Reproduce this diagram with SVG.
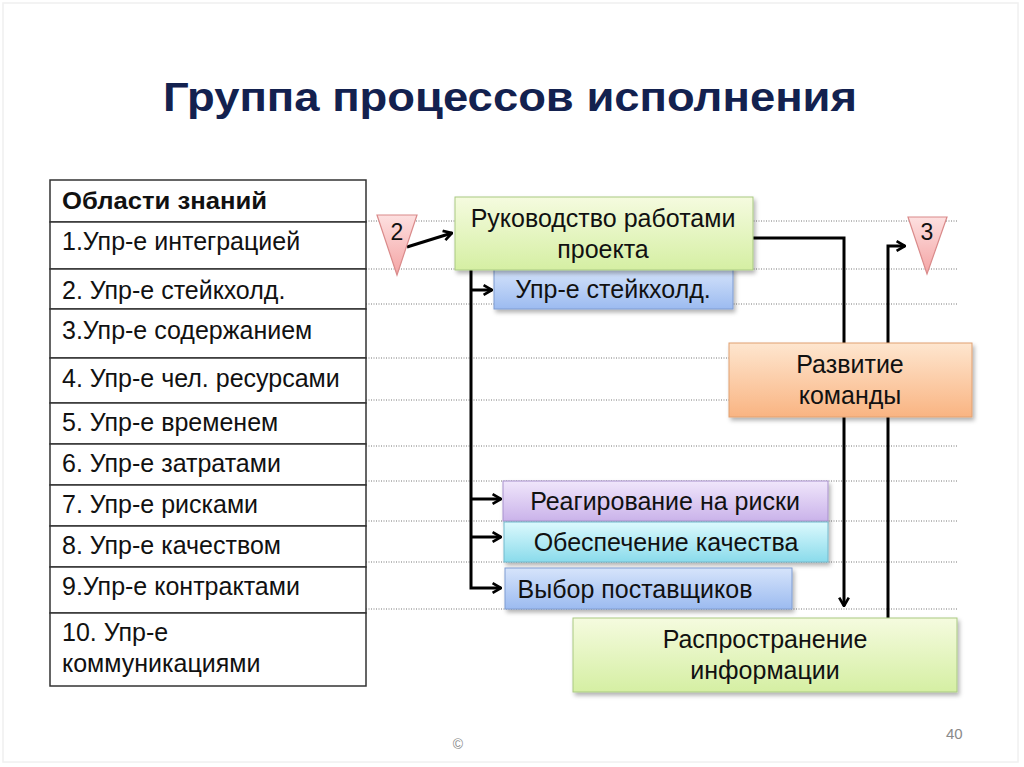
<svg xmlns="http://www.w3.org/2000/svg" width="1024" height="767" viewBox="0 0 1024 767">
<style>
.t{font-family:"Liberation Sans",Arial,sans-serif;font-size:25px;fill:#111}
.c{text-anchor:middle}
.cell{fill:#fff;stroke:#333;stroke-width:1.5}
.dot{stroke:#777;stroke-width:1;stroke-dasharray:1 1.5}
.con{fill:none;stroke:#000;stroke-width:3}
.box{filter:url(#sh)}
</style>
<defs>
<filter id="sh" x="-10%" y="-20%" width="120%" height="150%"><feDropShadow dx="2" dy="3" stdDeviation="2" flood-color="#000" flood-opacity="0.3"/></filter>
<linearGradient id="gGreen" x1="0" y1="0" x2="0" y2="1"><stop offset="0" stop-color="#f5fbdf"/><stop offset="1" stop-color="#d5efa3"/></linearGradient>
<linearGradient id="gBlue" x1="0" y1="0" x2="0" y2="1"><stop offset="0" stop-color="#d6e4fb"/><stop offset="1" stop-color="#9cbbf0"/></linearGradient>
<linearGradient id="gPurple" x1="0" y1="0" x2="0" y2="1"><stop offset="0" stop-color="#f0e6fb"/><stop offset="1" stop-color="#cab3ea"/></linearGradient>
<linearGradient id="gCyan" x1="0" y1="0" x2="0" y2="1"><stop offset="0" stop-color="#dcf9fd"/><stop offset="1" stop-color="#8adbeb"/></linearGradient>
<linearGradient id="gOrange" x1="0" y1="0" x2="0" y2="1"><stop offset="0" stop-color="#fee6cf"/><stop offset="1" stop-color="#f9b482"/></linearGradient>
<linearGradient id="gPink" x1="0" y1="0" x2="0" y2="1"><stop offset="0" stop-color="#fde0e0"/><stop offset="1" stop-color="#f4a4a4"/></linearGradient>
<marker id="ah" viewBox="0 0 10 10" refX="9" refY="5" markerWidth="4" markerHeight="4" orient="auto" markerUnits="strokeWidth"><path d="M2,1 L9,5 L2,9" fill="none" stroke="#000" stroke-width="2.2"/></marker>
</defs>
<rect x="0" y="0" width="1024" height="767" fill="#fff"/>
<rect x="3" y="3" width="1015" height="759" fill="none" stroke="#f0f0f0" stroke-width="1.5"/>
<text x="510" y="111" class="t c" style="font-size:41px;font-weight:bold;fill:#13214f" textLength="694" lengthAdjust="spacingAndGlyphs">Группа процессов исполнения</text>

<g id="gridlines">
<line class="dot" x1="366" y1="221" x2="957" y2="221"/>
<line class="dot" x1="366" y1="269" x2="957" y2="269"/>
<line class="dot" x1="366" y1="304" x2="957" y2="304"/>
<line class="dot" x1="366" y1="358" x2="957" y2="358"/>
<line class="dot" x1="366" y1="400" x2="957" y2="400"/>
<line class="dot" x1="366" y1="446" x2="957" y2="446"/>
<line class="dot" x1="366" y1="481" x2="957" y2="481"/>
<line class="dot" x1="366" y1="521" x2="957" y2="521"/>
<line class="dot" x1="366" y1="562" x2="957" y2="562"/>
<line class="dot" x1="366" y1="609" x2="957" y2="609"/>
</g>

<g id="table">
<rect class="cell" x="50" y="180" width="316" height="42"/>
<rect class="cell" x="50" y="222" width="316" height="47"/>
<rect class="cell" x="50" y="269" width="316" height="40"/>
<rect class="cell" x="50" y="309" width="316" height="49"/>
<rect class="cell" x="50" y="358" width="316" height="45"/>
<rect class="cell" x="50" y="403" width="316" height="41"/>
<rect class="cell" x="50" y="444" width="316" height="41"/>
<rect class="cell" x="50" y="485" width="316" height="41"/>
<rect class="cell" x="50" y="526" width="316" height="41"/>
<rect class="cell" x="50" y="567" width="316" height="46"/>
<rect class="cell" x="50" y="613" width="316" height="73"/>
<text class="t" x="62" y="209" style="font-weight:bold;font-size:24px" textLength="205" lengthAdjust="spacingAndGlyphs">Области знаний</text>
<text class="t" x="62" y="250">1.Упр-е интеграцией</text>
<text class="t" x="62" y="299">2. Упр-е стейкхолд.</text>
<text class="t" x="62" y="339">3.Упр-е содержанием</text>
<text class="t" x="62" y="387">4. Упр-е чел. ресурсами</text>
<text class="t" x="62" y="431">5. Упр-е временем</text>
<text class="t" x="62" y="472">6. Упр-е затратами</text>
<text class="t" x="62" y="513">7. Упр-е рисками</text>
<text class="t" x="62" y="554">8. Упр-е качеством</text>
<text class="t" x="62" y="595">9.Упр-е контрактами</text>
<text class="t" x="62" y="641">10. Упр-е</text>
<text class="t" x="62" y="672">коммуникациями</text>
</g>

<g id="connectors">
<line class="con" x1="407" y1="247" x2="452" y2="233" marker-end="url(#ah)"/>
<path class="con" d="M753,238 H844 V606" marker-end="url(#ah)"/>
<path class="con" d="M888,618 V246 H905" marker-end="url(#ah)"/>
<path class="con" d="M471,270 V588 H501" marker-end="url(#ah)"/>
<path class="con" d="M471,290 H492" marker-end="url(#ah)"/>
<path class="con" d="M471,499 H501" marker-end="url(#ah)"/>
<path class="con" d="M471,537 H501" marker-end="url(#ah)"/>
</g>

<g id="tri2">
<polygon points="377,215 417,215 397,275" fill="url(#gPink)" stroke="#d98a8a" stroke-width="1.2"/>
<text class="t c" x="397" y="240" style="font-size:23px">2</text>
</g>
<g id="tri3">
<polygon points="908,217 947,217 927,274" fill="url(#gPink)" stroke="#d98a8a" stroke-width="1.2"/>
<text class="t c" x="927" y="240" style="font-size:23px">3</text>
</g>

<g id="stakeholders">
<rect class="box" x="494" y="268" width="239" height="41" fill="url(#gBlue)" stroke="#7f9cd2" stroke-width="1"/>
<text class="t c" x="613" y="298">Упр-е стейкхолд.</text>
</g>
<g id="direct">
<rect class="box" x="455" y="197" width="298" height="73" fill="url(#gGreen)" stroke="#a9c982" stroke-width="1"/>
<text class="t c" x="603" y="227">Руководство работами</text>
<text class="t c" x="603" y="258">проекта</text>
</g>
<g id="team">
<rect class="box" x="729" y="343" width="243" height="74" fill="url(#gOrange)" stroke="#e0a070" stroke-width="1"/>
<text class="t c" x="850" y="373">Развитие</text>
<text class="t c" x="850" y="404">команды</text>
</g>
<g id="risks">
<rect class="box" x="503" y="481" width="325" height="40" fill="url(#gPurple)" stroke="#a891cd" stroke-width="1"/>
<text class="t c" x="665" y="510">Реагирование на риски</text>
</g>
<g id="quality">
<rect class="box" x="504" y="522" width="324" height="40" fill="url(#gCyan)" stroke="#72b9cd" stroke-width="1"/>
<text class="t c" x="666" y="551">Обеспечение качества</text>
</g>
<g id="suppliers">
<rect class="box" x="505" y="568" width="287" height="41" fill="url(#gBlue)" stroke="#7f9cd2" stroke-width="1"/>
<text class="t c" x="635" y="598">Выбор поставщиков</text>
</g>
<g id="info">
<rect class="box" x="573" y="618" width="384" height="74" fill="url(#gGreen)" stroke="#a9c982" stroke-width="1"/>
<text class="t c" x="765" y="648">Распространение</text>
<text class="t c" x="765" y="679">информации</text>
</g>

<text class="t" x="946" y="739" style="font-size:15px;fill:#8a8a8a">40</text>
<text class="t c" x="458" y="749" style="font-size:14px;fill:#8a8a8a">©</text>
</svg>
